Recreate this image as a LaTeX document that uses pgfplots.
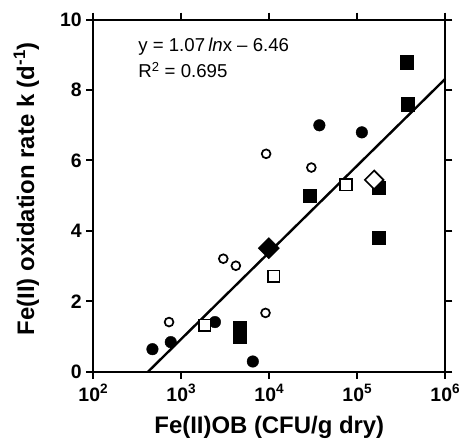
\documentclass[border=0pt]{standalone}
\usepackage{fontspec}
\setmainfont{Liberation Sans}
\usepackage{pgfplots}
\pgfplotsset{compat=1.18}
\begin{document}
\begin{tikzpicture}
\begin{axis}[
  at={(0,0)}, anchor=south west,
  scale only axis, width=352bp, height=352bp,
  xmode=log, xmin=100, xmax=1e6, ymin=0, ymax=10,
  xtick={100,1000,10000,100000,1000000},
  xticklabels={10\textsuperscript{2},10\textsuperscript{3},10\textsuperscript{4},10\textsuperscript{5},10\textsuperscript{6}},
  ytick={0,2,4,6,8,10},
  xminorticks=false,
  tick align=outside,
  major tick length=7bp,
  axis line style={line width=2bp},
  every tick/.style={line width=2bp, black},
  /pgf/number format/assume math mode=true,
  xticklabel style={font=\fontsize{19.5}{22}\selectfont\bfseries, yshift=-2bp},
  yticklabel style={font=\fontsize{19.5}{22}\selectfont\bfseries, xshift=-1bp},
  xlabel={Fe(II)OB (CFU/g dry)},
  ylabel={Fe(II) oxidation rate k (d\textsuperscript{-1})},
  label style={font=\fontsize{24}{28}\selectfont\bfseries},
  xlabel style={at={(axis description cs:0.5,-0.159)}, anchor=center},
  ylabel style={at={(axis description cs:-0.19,0.52)}, anchor=center, rotate=0},
  clip=false,
]
% trend line
\addplot[black, line width=2.4bp] coordinates {(419,0) (1000000,8.32)};
% filled circles
\addplot[only marks, mark=*, mark size=5.8bp, black] coordinates {
 (37070,7.00) (112700,6.80) (2410,1.41) (759,0.84) (470,0.64) (6500,0.29)};
% open circles
\addplot[only marks, mark=o, mark size=4.4bp, black, line width=1.7bp] coordinates {
 (9204,6.19) (30060,5.80) (3000,3.21) (4169,3.01) (9057,1.67) (726,1.41)};
% filled squares
\addplot[only marks, mark=square*, mark size=6.6bp, black] coordinates {
 (364800,8.79) (374100,7.60) (174200,5.22) (28510,5.00) (174200,3.80) (4634,1.24) (4634,0.99)};
% open squares
\addplot[only marks, mark=square*, mark size=5.8bp, draw=black, line width=1.7bp, mark options={fill=white}] coordinates {
 (74300,5.31) (11250,2.71) (1845,1.32)};
% filled diamond
\addplot[only marks, mark=square*, mark size=7.5bp, black, mark options={rotate=45}] coordinates {
 (9863,3.51)};
% open diamond
\addplot[only marks, mark=square*, mark size=6.6bp, draw=black, line width=1.7bp, mark options={rotate=45, fill=white}] coordinates {
 (155600,5.45)};
\node[anchor=base west, font=\fontsize{18.7}{22}\selectfont] at (axis description cs:0.118,0.909) {y = 1.07\,\textit{ln}x -- 6.46};
\node[anchor=base west, font=\fontsize{18.7}{22}\selectfont] at (axis description cs:0.118,0.835) {R\textsuperscript{2} = 0.695};
\end{axis}
\pgfresetboundingbox
\path[use as bounding box] (-93.3bp,-72.3bp) rectangle (365.7bp,371.7bp);
\end{tikzpicture}
\end{document}
